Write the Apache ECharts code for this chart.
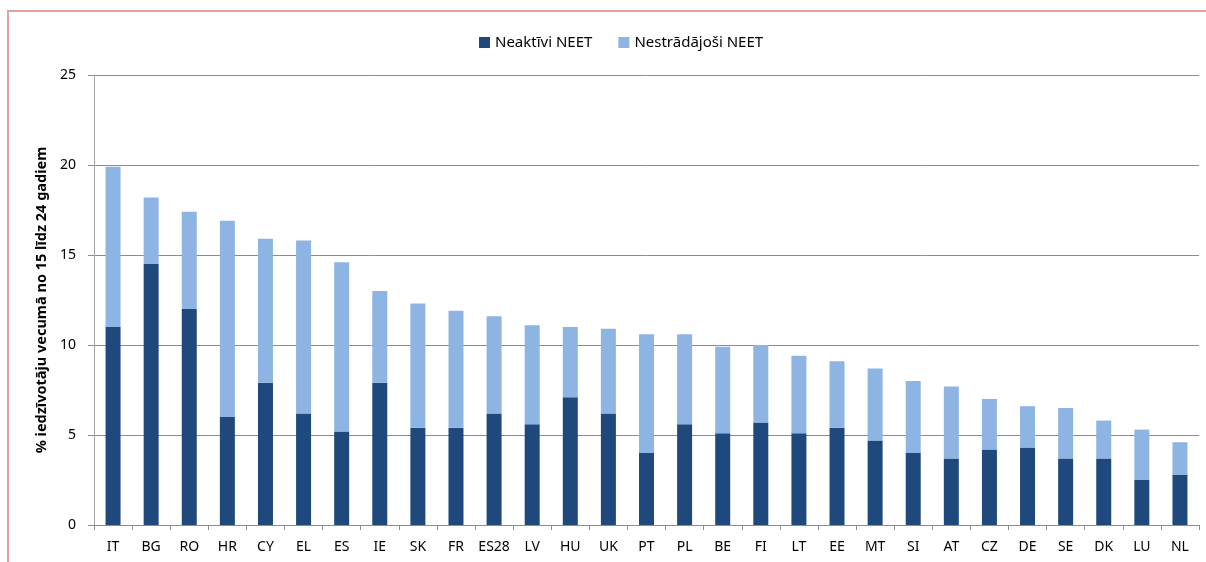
<!DOCTYPE html>
<html>
<head>
<meta charset="utf-8">
<script src="https://cdn.jsdelivr.net/npm/echarts@6/dist/echarts.min.js"></script>
<style>
  html, body { margin: 0; padding: 0; background: #fff; }
  #chart { width: 1206px; height: 562px; }
</style>
</head>
<body>
<div id="chart"></div>
<script>
const countries = ['IT', 'BG', 'RO', 'HR', 'CY', 'EL', 'ES', 'IE', 'SK', 'FR', 'ES28', 'LV', 'HU', 'UK', 'PT',
    'PL', 'BE', 'FI', 'LT', 'EE', 'MT', 'SI', 'AT', 'CZ', 'DE', 'SE', 'DK', 'LU', 'NL'];
// neaktivi (apaksa)
const inactive = [11.0, 14.5, 12.0, 6.0, 7.9, 6.2, 5.2, 7.9, 5.4, 5.4, 6.2, 5.6, 7.1, 6.2, 4.0,
    5.6, 5.1, 5.7, 5.1, 5.4, 4.7, 4.0, 3.7, 4.2, 4.3, 3.7, 3.7, 2.5, 2.8];
// nestradajosi (augsa)
const unemployed = [8.9, 3.7, 5.4, 10.9, 8.0, 9.6, 9.4, 5.1, 6.9, 6.5, 5.4, 5.5, 3.9, 4.7, 6.6,
    5.0, 4.8, 4.3, 4.3, 3.7, 4.0, 4.0, 4.0, 2.8, 2.3, 2.8, 2.1, 2.8, 1.8];
const yTicks = [0, 5, 10, 15, 20, 25];

const font = 'Noto Sans';
const chart = echarts.init(document.getElementById('chart'));

chart.setOption({
    animation: false,
    textStyle: { fontFamily: font },
    graphic: [
        {
            type: 'rect',
            shape: { x: 8, y: 11, width: 1300, height: 700 },
            style: { fill: 'none', stroke: '#E3A2A1', lineWidth: 2 },
            silent: true,
        },
    ],
    legend: {
        top: 30,
        left: 474,
        itemWidth: 11,
        itemHeight: 11,
        itemGap: 26,
        icon: 'rect',
        textStyle: { fontSize: 15, color: '#000', fontFamily: font },
        data: ['Neaktīvi NEET', 'Nestrādājoši NEET'],
    },
    grid: { left: 94, right: 7, top: 75, bottom: 37 },
    xAxis: {
        type: 'category',
        data: countries,
        axisLine: { lineStyle: { color: '#8C8C8C' } },
        axisTick: { show: true, length: 5, lineStyle: { color: '#8C8C8C' } },
        axisLabel: { color: '#000', fontSize: 14, margin: 15, interval: 0 },
    },
    yAxis: {
        type: 'value',
        min: yTicks[0],
        max: yTicks[yTicks.length - 1],
        interval: 5,
        name: '% iedzīvotāju vecumā no 15 līdz 24 gadiem',
        nameLocation: 'middle',
        nameGap: 44,
        nameTextStyle: { fontWeight: 'bold', fontSize: 14.5, color: '#000' },
        axisLine: { show: true, lineStyle: { color: '#A6A6A6' } },
        axisTick: { show: true, length: 6, lineStyle: { color: '#8C8C8C' } },
        axisLabel: { color: '#000', fontSize: 14, margin: 18 },
        splitLine: { lineStyle: { color: '#8C8C8C', width: 1 } },
    },
    series: [
        {
            name: 'Neaktīvi NEET',
            type: 'bar',
            stack: 'neet',
            data: inactive,
            barWidth: 15,
            itemStyle: { color: '#1F497D' },
        },
        {
            name: 'Nestrādājoši NEET',
            type: 'bar',
            stack: 'neet',
            data: unemployed,
            barWidth: 15,
            itemStyle: { color: '#8EB4E3' },
        },
    ],
});
</script>
</body>
</html>
